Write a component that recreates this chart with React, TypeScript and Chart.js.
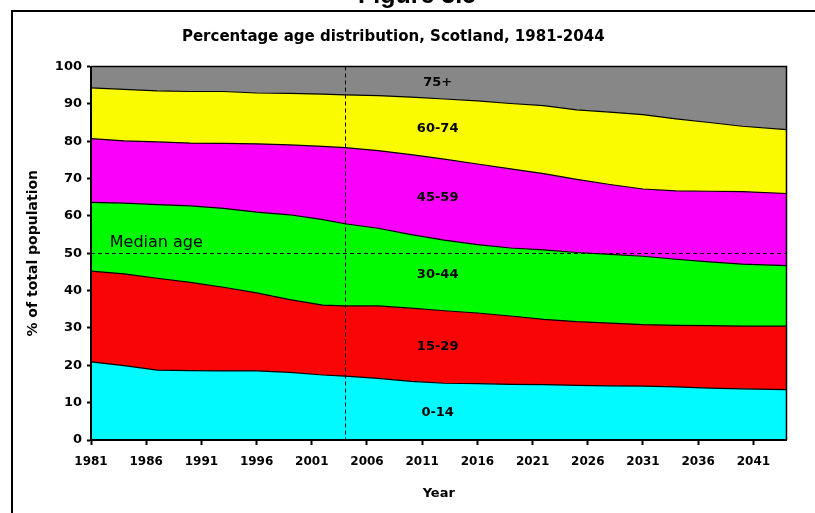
import React, { useEffect, useRef } from 'react';
import { Chart, registerables } from 'chart.js';

Chart.register(...registerables);

const YEARS = [1981, 1984, 1987, 1990, 1993, 1996, 1999, 2002, 2004, 2007, 2010, 2013, 2016, 2019, 2022, 2025, 2028, 2031, 2034, 2037, 2040, 2044];

// Percentage of total population in each age band
const AGE_0_14 = [20.9, 19.9, 18.7, 18.6, 18.5, 18.5, 18.1, 17.4, 17.1, 16.5, 15.7, 15.2, 15.1, 14.9, 14.8, 14.6, 14.5, 14.4, 14.2, 13.9, 13.7, 13.5];
const AGE_15_29 = [24.3, 24.6, 24.6, 23.6, 22.4, 20.9, 19.5, 18.7, 18.8, 19.4, 19.6, 19.4, 18.9, 18.3, 17.5, 17.1, 16.8, 16.5, 16.5, 16.7, 16.8, 17.0];
const AGE_30_44 = [18.4, 18.9, 19.7, 20.5, 21.1, 21.6, 22.7, 22.9, 22.0, 20.8, 19.7, 18.9, 18.3, 18.2, 18.6, 18.5, 18.4, 18.3, 17.7, 17.1, 16.6, 16.2];
const AGE_45_59 = [17.1, 16.7, 16.8, 16.8, 17.4, 18.3, 18.7, 19.6, 20.4, 20.8, 21.4, 21.7, 21.6, 21.2, 20.4, 19.6, 18.7, 18.0, 18.3, 18.9, 19.4, 19.3];
const AGE_60_74 = [13.6, 13.8, 13.7, 13.8, 13.9, 13.6, 13.8, 14.0, 14.1, 14.7, 15.4, 16.1, 16.9, 17.5, 18.2, 18.6, 19.4, 19.9, 19.3, 18.4, 17.5, 17.1];
const AGE_75_PLUS = [5.7, 6.1, 6.5, 6.7, 6.7, 7.1, 7.2, 7.4, 7.6, 7.8, 8.2, 8.7, 9.2, 9.9, 10.5, 11.6, 12.2, 12.9, 14.0, 15.0, 16.0, 16.9];

const BAND_LABELS = ['0-14', '15-29', '30-44', '45-59', '60-74', '75+'];
const BAND_SERIES = [AGE_0_14, AGE_15_29, AGE_30_44, AGE_45_59, AGE_60_74, AGE_75_PLUS];
const BAND_COLORS = ['#00FAFF', '#FA0505', '#00FA00', '#FA00FA', '#FAFA00', '#878787'];

const X_TICKS = [1981, 1986, 1991, 1996, 2001, 2006, 2011, 2016, 2021, 2026, 2031, 2036, 2041];
const Y_TICKS = [0, 10, 20, 30, 40, 50, 60, 70, 80, 90, 100];

const MEDIAN_LINE = 50;
const BASE_YEAR = 2004;
const TITLE = 'Percentage age distribution, Scotland, 1981-2044';

const BOLD = '"DejaVu Sans", "Liberation Sans", Arial, sans-serif';

// in-chart band label anchors (data coordinates)
const LABEL_YEAR = 2012.4;
const LABEL_LEVELS = [7.3, 24.9, 44.4, 64.8, 83.5, 95.8];

const overlayPlugin = {
  id: 'overlay',
  afterDatasetsDraw(chart: any) {
    const { ctx, chartArea: a, scales } = chart;
    const x = scales.x;
    const y = scales.y;
    ctx.save();
    // plot border (right + top)
    ctx.strokeStyle = '#000';
    ctx.lineWidth = 1.5;
    ctx.beginPath();
    ctx.moveTo(a.left, a.top);
    ctx.lineTo(a.right, a.top);
    ctx.lineTo(a.right, a.bottom);
    ctx.stroke();
    // dashed reference lines
    ctx.lineWidth = 1;
    ctx.setLineDash([4, 3]);
    const ym = Math.round(y.getPixelForValue(MEDIAN_LINE)) + 0.5;
    const xb = Math.round(x.getPixelForValue(BASE_YEAR)) + 0.5;
    ctx.beginPath();
    ctx.moveTo(a.left, ym);
    ctx.lineTo(a.right, ym);
    ctx.moveTo(xb, a.top);
    ctx.lineTo(xb, a.bottom);
    ctx.stroke();
    ctx.setLineDash([]);
    // band labels
    ctx.fillStyle = '#000';
    ctx.textAlign = 'center';
    ctx.textBaseline = 'middle';
    ctx.font = 'bold 13px ' + BOLD;
    const lx = x.getPixelForValue(LABEL_YEAR);
    BAND_LABELS.forEach((t, i) => {
      ctx.fillText(t, lx, y.getPixelForValue(LABEL_LEVELS[i]));
    });
    // median label
    ctx.textAlign = 'left';
    ctx.font = '16px "DejaVu Sans", Arial, sans-serif';
    ctx.fillText('Median age', x.getPixelForValue(1982.7), y.getPixelForValue(52.9));
    ctx.restore();
  },
};

export default function App() {
  const ref = useRef<HTMLCanvasElement>(null);

  useEffect(() => {
    document.body.style.margin = '0';
    const datasets = BAND_SERIES.map((vals, i) => ({
      label: BAND_LABELS[i],
      data: YEARS.map((yr, j) => ({ x: yr, y: vals[j] })),
      backgroundColor: BAND_COLORS[i],
      borderColor: '#000',
      borderWidth: 1.2,
      fill: i === 0 ? 'origin' : '-1',
      pointRadius: 0,
      tension: 0,
    }));
    const chart = new Chart(ref.current as HTMLCanvasElement, {
      type: 'line',
      data: { datasets },
      options: {
        responsive: false,
        animation: false,
        devicePixelRatio: 1,
        layout: { padding: { left: 0, right: 28.5, top: 0, bottom: 0 } },
        plugins: {
          legend: { display: false },
          tooltip: { enabled: false },
          title: {
            display: true,
            text: TITLE,
            color: '#000',
            font: { family: BOLD, size: 15, weight: 'bold' },
            padding: { top: 28.5, bottom: 20 },
          },
        },
        scales: {
          x: {
            type: 'linear',
            min: 1981,
            max: 2044,
            afterBuildTicks: (s: any) => {
              s.ticks = X_TICKS.map((v) => ({ value: v }));
            },
            afterFit: (s: any) => {
              s.height = 73;
            },
            ticks: {
              color: '#000',
              font: { family: BOLD, size: 12, weight: 'bold' },
              padding: 10,
              maxRotation: 0,
              autoSkip: false,
              callback: (v: any) => String(v),
            },
            grid: { display: true, drawOnChartArea: false, drawTicks: true, tickLength: 5, tickWidth: 2, tickColor: '#000' },
            border: { display: true, color: '#000', width: 2, z: 1 },
            title: {
              display: true,
              text: 'Year',
              color: '#000',
              font: { family: BOLD, size: 13, weight: 'bold' },
              padding: { top: 0, bottom: 12 },
            },
          },
          y: {
            stacked: true,
            min: 0,
            max: 100,
            afterBuildTicks: (s: any) => {
              s.ticks = Y_TICKS.map((v) => ({ value: v }));
            },
            afterFit: (s: any) => {
              s.width = 91;
            },
            ticks: {
              color: '#000',
              font: { family: BOLD, size: 13, weight: 'bold' },
              padding: 5,
            },
            grid: { display: true, drawOnChartArea: false, drawTicks: true, tickLength: 4, tickWidth: 2, tickColor: '#000' },
            border: { display: true, color: '#000', width: 2, z: 1 },
            title: {
              display: true,
              text: '% of total population',
              color: '#000',
              font: { family: BOLD, size: 14, weight: 'bold' },
              padding: { top: 25, bottom: 0 },
            },
          },
        },
      },
      plugins: [overlayPlugin],
    } as any);
    return () => chart.destroy();
  }, []);

  return (
    <div style={{ position: 'relative', width: 815, height: 513, overflow: 'hidden', background: '#fff' }}>
      <canvas ref={ref} width={815} height={513} style={{ display: 'block', width: 815, height: 513 }} />
      <div
        style={{
          position: 'absolute',
          left: 11,
          top: 10,
          width: 900,
          height: 600,
          borderLeft: '2px solid #000',
          borderTop: '2px solid #000',
          pointerEvents: 'none',
        }}
      />
      <div
        style={{
          position: 'absolute',
          left: 217,
          top: -18,
          width: 400,
          textAlign: 'center',
          font: 'bold 25px "Liberation Sans", Arial, sans-serif',
          lineHeight: '25px',
          color: '#000',
        }}
      >
        Figure 3.5
      </div>
    </div>
  );
}
